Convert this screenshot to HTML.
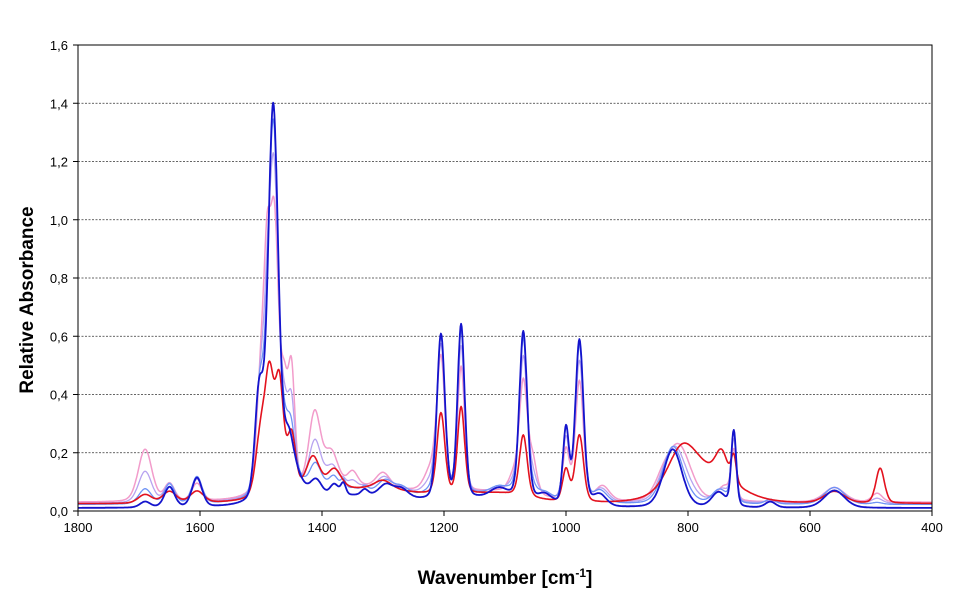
<!DOCTYPE html>
<html><head><meta charset="utf-8"><style>
body{margin:0;background:#fff;width:974px;height:601px;overflow:hidden;font-family:"Liberation Sans",Arial,sans-serif}
</style></head><body>
<svg id="s" width="974" height="601" xmlns="http://www.w3.org/2000/svg">
<rect width="974" height="601" fill="#fff"/>
<g id="grid" stroke="#333" stroke-width="0.8" stroke-dasharray="2,1.5"></g>
<g id="lines" fill="none" stroke-linejoin="round"></g>
<rect x="78" y="45" width="854" height="466" fill="none" stroke="#000" stroke-width="1"/>
<g id="ticks" stroke="#000" stroke-width="1"></g>
<g id="lbl" font-size="13" fill="#000"></g>
<text x="505" y="584" font-size="19" font-weight="bold" text-anchor="middle">Wavenumber [cm<tspan dy="-7" font-size="12">-1</tspan><tspan dy="7">]</tspan></text>
<text transform="translate(33,300) rotate(-90)" font-size="19" font-weight="bold" text-anchor="middle">Relative Absorbance</text>
</svg>
<script>
var X=function(w){return 78+(1800-w)*854/1400;}, Y=function(v){return 511-v*291.25;};
var g=document.getElementById('grid'),t=document.getElementById('ticks'),l=document.getElementById('lbl'),L=document.getElementById('lines');
var h='',tk='',lb='';
for(var i=0;i<=8;i++){var v=i*0.2,y=Y(v);if(i>0&&i<8)h+='<line x1="78" x2="932" y1="'+y+'" y2="'+y+'"/>';
tk+='<line x1="73" x2="78" y1="'+y+'" y2="'+y+'"/>';lb+='<text x="68" y="'+(y+5)+'" text-anchor="end">'+v.toFixed(1).replace('.',',')+'</text>';}
for(var w=1800;w>=400;w-=200){var x=X(w);tk+='<line x1="'+x+'" x2="'+x+'" y1="511" y2="516"/>';lb+='<text x="'+x+'" y="532" text-anchor="middle">'+w+'</text>';}
g.innerHTML=h;t.innerHTML=tk;l.innerHTML=lb;
function spec(p,b){return function(w){var s=b(w);for(var k=0;k<p.length;k++){var c=p[k][0],a=p[k][1],sg=p[k][2]*1.4,z=(w-c)/sg;s+=a*(0.75*Math.exp(-0.5*z*z)+0.25/(1+z*z/1.4));}return s;};}
function G(w,c,s){var z=(w-c)/s;return Math.exp(-0.5*z*z);}
var blue=spec([[1690,0.02,6],[1650,0.07,6],[1605,0.1,6],[1503,0.36,5],[1480,1.36,6],[1455,0.18,6],[1440,0.06,8],[1410,0.06,7],[1380,0.04,5],[1365,0.04,3],[1330,0.02,4],[1295,0.04,8],[1270,0.03,8],[1205,0.57,4.7],[1172,0.6,4.2],[1110,0.03,10],[1070,0.58,4.6],[1035,0.03,8],[1000,0.26,3.6],[978,0.57,4.8],[945,0.04,8],[825,0.2,11],[750,0.05,8],[725,0.26,3],[665,0.02,6],[560,0.06,12]],function(w){return 0.01+0.04*G(w,1330,90)+0.03*G(w,1110,50);});
var pink=spec([[1690,0.18,8],[1650,0.06,6],[1605,0.06,6],[1500,0.38,5],[1490,0.6,4],[1478,0.9,5],[1462,0.3,4],[1450,0.4,4],[1412,0.26,7],[1385,0.12,8],[1350,0.05,6],[1300,0.05,8],[1220,0.08,8],[1205,0.44,4.7],[1172,0.43,4.2],[1085,0.06,6],[1070,0.37,4.6],[1055,0.12,5],[1000,0.17,4],[978,0.41,4.8],[940,0.05,8],[815,0.19,14],[842,0.05,10],[740,0.05,8],[725,0.16,3],[560,0.05,12],[490,0.03,6]],function(w){return 0.03+0.05*G(w,1330,100)+0.03*G(w,1110,50);});
var red=spec([[1690,0.03,8],[1650,0.04,8],[1605,0.04,8],[1500,0.22,6],[1486,0.37,5],[1470,0.38,5],[1450,0.2,5],[1415,0.12,8],[1380,0.07,8],[1300,0.03,10],[1205,0.28,4.7],[1172,0.3,4.2],[1070,0.21,4.6],[1000,0.11,4],[978,0.23,4.8],[810,0.12,16],[775,0.11,35],[745,0.09,7],[725,0.09,3],[560,0.04,12],[485,0.12,5]],function(w){return 0.025+0.05*G(w,1330,100)+0.03*G(w,1110,50);});
var lb_=function(w){return 0.8*blue(w)+0.2*pink(w)+0.008;}, lav=function(w){return 0.45*blue(w)+0.55*pink(w)+0.005;};
var ser=[[pink,'#F29CCB',1.5],[lav,'#B7A3F0',1.3],[lb_,'#6E93F5',1.3],[red,'#E3121E',1.6],[blue,'#1414CC',1.8]];
var out='';
for(var j=0;j<ser.length;j++){var f=ser[j][0],d='';for(var w2=1800;w2>=400;w2-=1){d+=(w2==1800?'M':'L')+X(w2).toFixed(1)+','+Y(Math.max(0,f(w2))).toFixed(1);}out+='<path d="'+d+'" stroke="'+ser[j][1]+'" stroke-width="'+ser[j][2]+'"/>';}
L.innerHTML=out;
</script>
</body></html>
